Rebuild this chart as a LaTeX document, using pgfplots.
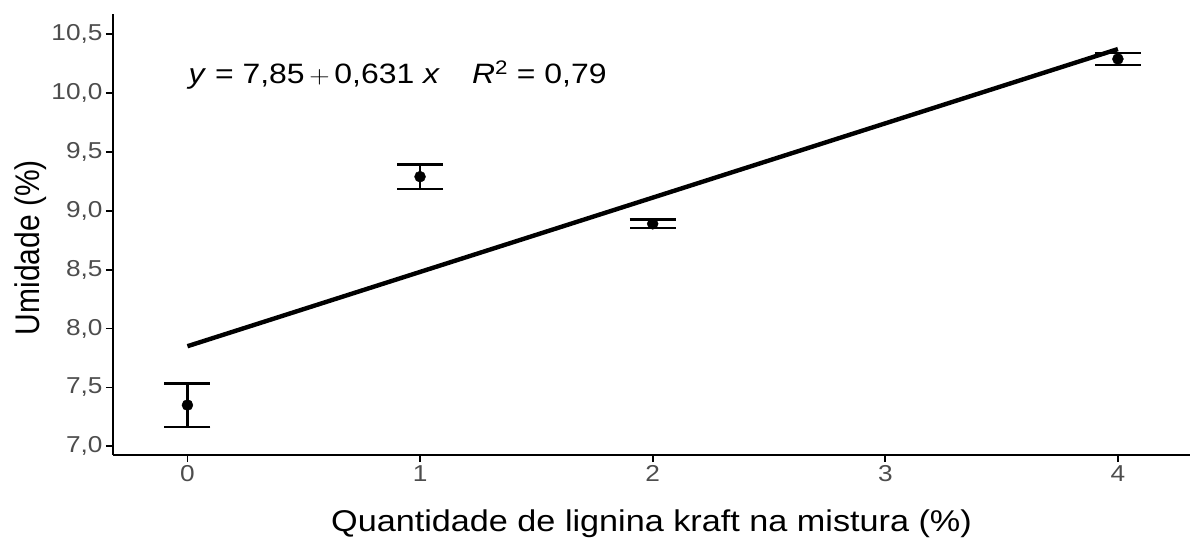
\documentclass[border=0pt]{standalone}
\usepackage{fontspec}
\setmainfont{Liberation Sans}
\usepackage{graphicx}
\usepackage{pgfplots}
\pgfplotsset{compat=1.18}
\definecolor{ticklab}{RGB}{77,77,77}
% the reference is a bit wider than tall in its lettering
\newcommand{\wide}[1]{\scalebox{1.14}[1]{#1}}

\begin{document}
\begin{tikzpicture}
\begin{axis}[
  scale only axis, width=1077bp, height=441bp,
  xmin=-0.32, xmax=4.31, ymin=6.926, ymax=10.672,
  axis x line*=bottom, axis y line*=left,
  axis line style={line width=2.3bp, black},
  xtick={0,1,2,3,4}, ytick={7,7.5,8,8.5,9,9.5,10,10.5},
  tick align=outside, major tick length=7bp,
  tick style={line width=1.8bp, black},
  /pgf/number format/assume math mode=true,
  tick label style={font=\fontsize{23bp}{27bp}\selectfont, text=ticklab},
  xticklabel={\wide{\pgfmathprintnumber{\tick}}},
  yticklabel={\wide{\pgfmathprintnumber[fixed,fixed zerofill,precision=1,use comma]{\tick}}},
  label style={font=\fontsize{30bp}{36bp}\selectfont},
  xlabel={\wide{Quantidade de lignina kraft na mistura (\%)}},
  ylabel={\scalebox{1}[1.14]{Umidade (\%)}},
  xlabel style={at={(axis description cs:0.5,-0.155)}, anchor=center},
  ylabel style={at={(axis description cs:-0.076,0.47)}, anchor=center},
  clip=false,
]
% regression line
\addplot[black, line width=4.4bp] coordinates {(0,7.85) (4,10.374)};
% means with error bars
\addplot[black, only marks, mark=*, mark size=5.5bp,
  error bars/.cd, y dir=both, y explicit, error mark=|,
  error bar style={line width=2.4bp, black},
  error mark options={line width=2.4bp, mark size=23bp, black}]
  coordinates {
  (0,7.35) +- (0,0.185)
  (1,9.29) +- (0,0.105)
  (2,8.89) +- (0,0.035)
  (4,10.29) +- (0,0.05)
  };
\node[anchor=west, font=\fontsize{28bp}{34bp}\selectfont] at (axis cs:-0.01,10.15)
  {\wide{\textit{y} = 7,85$\,+\,$0,631 \textit{x}\quad\textit{R}\textsuperscript{2} = 0,79}};
\end{axis}
\pgfresetboundingbox
\path (-113bp,-91bp) rectangle (1077bp,455bp);
\end{tikzpicture}
\end{document}
